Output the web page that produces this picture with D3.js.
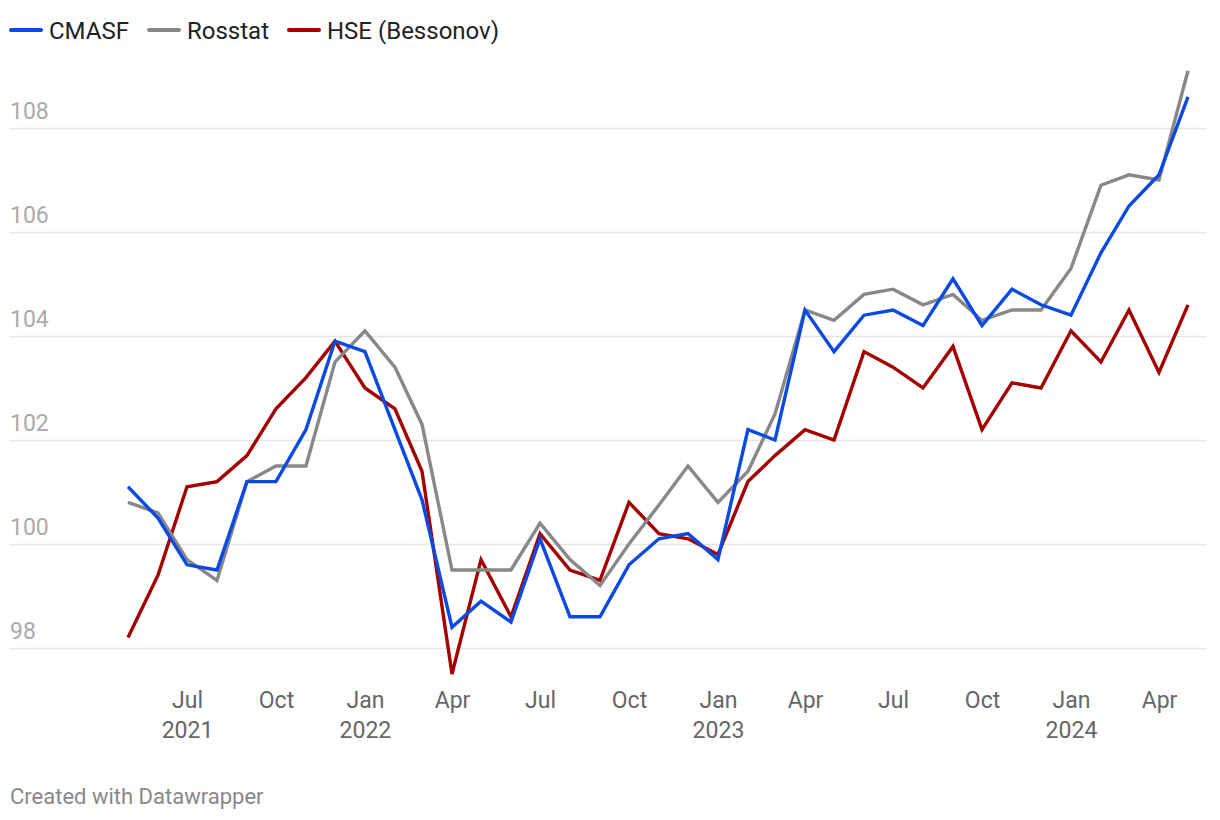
<!DOCTYPE html>
<html>
<head>
<meta charset="utf-8">
<script src="https://cdn.jsdelivr.net/npm/d3@7"></script>
<style>
  html, body { margin: 0; padding: 0; background: #fff; }
  svg { display: block; font-family: Roboto, "Noto Sans", sans-serif; }
</style>
</head>
<body>
<svg id="chart" width="1220" height="820"></svg>
<script>
// ---- data ----
const months = [
  "2021-05","2021-06","2021-07","2021-08","2021-09","2021-10","2021-11","2021-12",
  "2022-01","2022-02","2022-03","2022-04","2022-05","2022-06","2022-07","2022-08","2022-09","2022-10","2022-11","2022-12",
  "2023-01","2023-02","2023-03","2023-04","2023-05","2023-06","2023-07","2023-08","2023-09","2023-10","2023-11","2023-12",
  "2024-01","2024-02","2024-03","2024-04","2024-05"
];
const cmasf = [
  101.1, 100.5, 99.6, 99.5, 101.2, 101.2, 102.2, 103.9,
  103.7, 102.2, 100.85, 98.4, 98.9, 98.5, 100.1, 98.6, 98.6, 99.6, 100.1, 100.2,
  99.7, 102.2, 102.0, 104.5, 103.7, 104.4, 104.5, 104.2, 105.1, 104.2, 104.9, 104.6,
  104.4, 105.6, 106.5, 107.1, 108.6
];
const rosstat = [
  100.8, 100.6, 99.7, 99.3, 101.2, 101.5, 101.5, 103.5,
  104.1, 103.4, 102.3, 99.5, 99.5, 99.5, 100.4, 99.7, 99.2, 100.0, 100.75, 101.5,
  100.8, 101.4, 102.5, 104.5, 104.3, 104.8, 104.9, 104.6, 104.8, 104.3, 104.5, 104.5,
  105.3, 106.9, 107.1, 107.0, 109.1
];
const hse = [
  98.2, 99.4, 101.1, 101.2, 101.7, 102.6, 103.2, 103.9,
  103.0, 102.6, 101.4, 97.5, 99.7, 98.6, 100.2, 99.5, 99.3, 100.8, 100.2, 100.1,
  99.8, 101.2, 101.7, 102.2, 102.0, 103.7, 103.4, 103.0, 103.8, 102.2, 103.1, 103.0,
  104.1, 103.5, 104.5, 103.3, 104.6
];
const seriesNames = ["CMASF", "Rosstat", "HSE (Bessonov)"];
const seriesColors = ["#0a4ae2", "#888888", "#a50000"];
const yTicks = [98, 100, 102, 104, 106, 108];
const xTickMonths = ["2021-07","2021-10","2022-01","2022-04","2022-07","2022-10","2023-01","2023-04","2023-07","2023-10","2024-01","2024-04"];
const monthNames = ["Jan","Feb","Mar","Apr","May","Jun","Jul","Aug","Sep","Oct","Nov","Dec"];

// ---- setup ----
const svg = d3.select("#chart");
const parse = d3.timeParse("%Y-%m");
const dates = months.map(parse);

const x = d3.scaleTime()
  .domain([dates[0], dates[dates.length - 1]])
  .range([128, 1188]);
const y = d3.scaleLinear().domain([98, 108]).range([648, 128]);

// gridlines + y labels
const yAxis = d3.axisLeft(y).tickValues(yTicks).tickSize(0).tickFormat(d3.format("d"));
const gy = svg.append("g").call(yAxis);
gy.select(".domain").remove();
gy.selectAll(".tick line").remove();
gy.selectAll(".tick").each(function(d) {
  const t = d3.select(this);
  t.insert("line", ":first-child")
    .attr("x1", 10).attr("x2", 1206)
    .attr("y1", 0).attr("y2", 0)
    .attr("stroke", "#e5e5e5").attr("stroke-width", 1.5);
  t.select("text")
    .attr("x", 10).attr("dy", -10)
    .attr("text-anchor", "start")
    .attr("fill", "#aaaaaa")
    .attr("font-size", 23)
    .attr("font-family", "Roboto");
});

// x labels
const xAxis = d3.axisBottom(x)
  .tickValues(xTickMonths.map(parse))
  .tickSize(0)
  .tickFormat(d => monthNames[d.getMonth()]);
const gx = svg.append("g").call(xAxis);
gx.select(".domain").remove();
gx.selectAll(".tick").each(function(d) {
  const t = d3.select(this);
  t.select("text")
    .attr("y", 708).attr("dy", 0)
    .attr("fill", "#666666")
    .attr("font-size", 23)
    .attr("font-family", "Roboto");
  if (d.getMonth() === 0 || (d.getMonth() === 6 && d.getFullYear() === 2021)) {
    t.append("text")
      .attr("y", 738)
      .attr("text-anchor", "middle")
      .attr("fill", "#666666")
      .attr("font-size", 23)
      .attr("font-family", "Roboto")
      .text(d.getFullYear());
  }
});

// lines
const allSeries = [cmasf, rosstat, hse];
const line = d3.line().x((d, i) => x(dates[i])).y(d => y(d));
const order = [2, 1, 0];
order.forEach(k => {
  svg.append("path")
    .datum(allSeries[k])
    .attr("fill", "none")
    .attr("stroke", seriesColors[k])
    .attr("stroke-width", 3.4)
    .attr("stroke-linejoin", "miter")
    .attr("stroke-linecap", "butt")
    .attr("d", line);
});

// legend
const legendX = [10, 148, 288];
seriesNames.forEach((name, i) => {
  const g = svg.append("g").attr("transform", `translate(${legendX[i]},30)`);
  g.append("line").attr("x1", 1).attr("x2", 31).attr("y1", 0).attr("y2", 0)
    .attr("stroke", seriesColors[i]).attr("stroke-width", 4).attr("stroke-linecap", "round");
  g.append("text").attr("x", 39).attr("y", 8.5)
    .attr("fill", "#222222").attr("font-size", 24).attr("font-family", "Roboto")
    .text(name);
});

// footer
svg.append("text").attr("x", 10).attr("y", 804)
  .attr("fill", "#888888").attr("font-size", 22).attr("font-family", "Roboto")
  .text("Created with Datawrapper");
</script>
</body>
</html>
